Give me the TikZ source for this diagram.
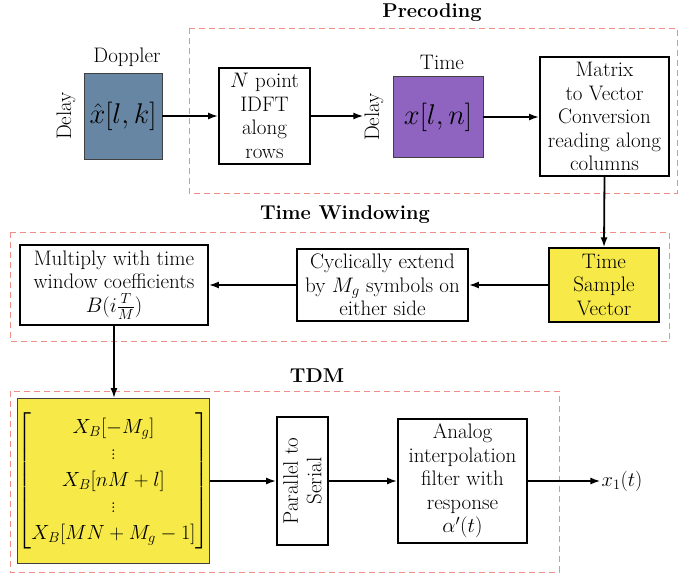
\RequirePackage{fix-cm}
\documentclass[tikz,border=0pt]{standalone}
\usepackage{amsmath}
\usetikzlibrary{arrows.meta, positioning}
\definecolor{steelblue}{HTML}{6686A4}
\definecolor{lavender}{HTML}{8E64C0}
\definecolor{lemon}{HTML}{F7EA48}
\definecolor{salmon}{HTML}{F28C86}

\tikzset{
  block/.style={draw, line width=1.8pt, fill=white, align=center, inner sep=0pt,
    font=\fontsize{21}{23.5}\selectfont},
  datablock/.style={draw=black!75, line width=0.8pt, inner sep=0pt,
    font=\fontsize{28.5}{32}\selectfont},
  stageframe/.style={draw=salmon, dash pattern=on 6pt off 4pt, line width=0.8pt},
  stagetitle/.style={font=\fontsize{20}{22}\selectfont\bfseries},
  axislabel/.style={font=\fontsize{21}{23}\selectfont, inner sep=1pt},
  flow/.style={-{Latex[length=10pt, width=7pt]}, line width=1.8pt},
}

\begin{document}
\begin{tikzpicture}[x=1pt, y=-1pt]
  \useasboundingbox[fill=white] (0,0) rectangle (694,576);

  % stage frames
  \draw[stageframe] (189,28) rectangle (677,193);
  \draw[stageframe] (10,232) rectangle (669,341);
  \draw[stageframe] (10,391) rectangle (559,572);
  \node[stagetitle] (precoding) at (432,13) {Precoding};
  \node[stagetitle] (windowing) at (345,215) {Time Windowing};
  \node[stagetitle] (tdm) at (317,376) {TDM};

  % precoding
  \node[datablock, fill=steelblue, minimum width=78, minimum height=86] (xhat) at (123,116) {$\hat{x}[l,k]$};
  \node[axislabel] (dop) at (127,57) {Doppler};
  \node[axislabel, rotate=90] (dly1) at (66,116) {Delay};
  \node[block, minimum width=91, minimum height=96] (idft) at (264.5,116) {$N$ point\\IDFT\\along\\rows};
  \node[datablock, fill=lavender, minimum width=90, minimum height=81] (xln) at (438,117) {$x[l,n]$};
  \node[axislabel] (time) at (442,62) {Time};
  \node[axislabel, rotate=90] (dly2) at (374,117) {Delay};
  \node[block, minimum width=129, minimum height=119] (matvec) at (604.5,116.5) {Matrix\\to Vector\\Conversion\\reading along\\columns};

  % time windowing
  \node[block, fill=lemon, line width=1.3pt, minimum width=110, minimum height=74] (tsv) at (604,285) {Time\\Sample\\Vector};
  \node[block, minimum width=171, minimum height=72] (cyclic) at (382.5,285) {Cyclically extend\\by $M_g$ symbols on\\either side};
  \node[block, minimum width=188, minimum height=80] (multiply) at (114,285) {Multiply with time\\window coefficients\\$B(i\frac{T}{M})$};

  % tdm
  \node[datablock, fill=lemon, font=\fontsize{20.5}{24}\selectfont, minimum width=187, minimum height=165] (vec) at (113.5,481)
    {$\renewcommand{\arraystretch}{1.1}\begin{bmatrix} X_B[-M_g] \\ \vdots \\ X_B[nM+l] \\ \vdots \\ X_B[MN+M_g-1] \end{bmatrix}$};
  \node[block, minimum width=51, minimum height=128] (p2s) at (302.5,481) {};
  \node[font=\fontsize{21}{23.5}\selectfont, rotate=90, align=center] (p2stext) at (p2s.center) {Parallel to\\Serial};
  \node[block, minimum width=129, minimum height=124] (analog) at (462.5,481) {Analog\\interpolation\\filter with\\response\\$\alpha'(t)$};
  \node[axislabel, font=\fontsize{20.5}{23}\selectfont] (out) at (622,481) {$x_1(t)$};

  % connectors
  \draw[flow] (xhat.east) -- (idft.west);
  \draw[flow] (idft.east) -- ([yshift=1pt]dly2.north);
  \draw[flow] (xln.east) -- (matvec.west |- xln.east);
  \draw[flow] (matvec.south) -- (tsv.north);
  \draw[flow] (tsv.west) -- (cyclic.east);
  \draw[flow] (cyclic.west) -- (multiply.east);
  \draw[flow] (multiply.south) -- (multiply.south |- vec.north);
  \draw[flow] (vec.east) -- (p2s.west);
  \draw[flow] (p2s.east) -- (analog.west);
  \draw[flow] (analog.east) -- (out.west);
\end{tikzpicture}
\end{document}
